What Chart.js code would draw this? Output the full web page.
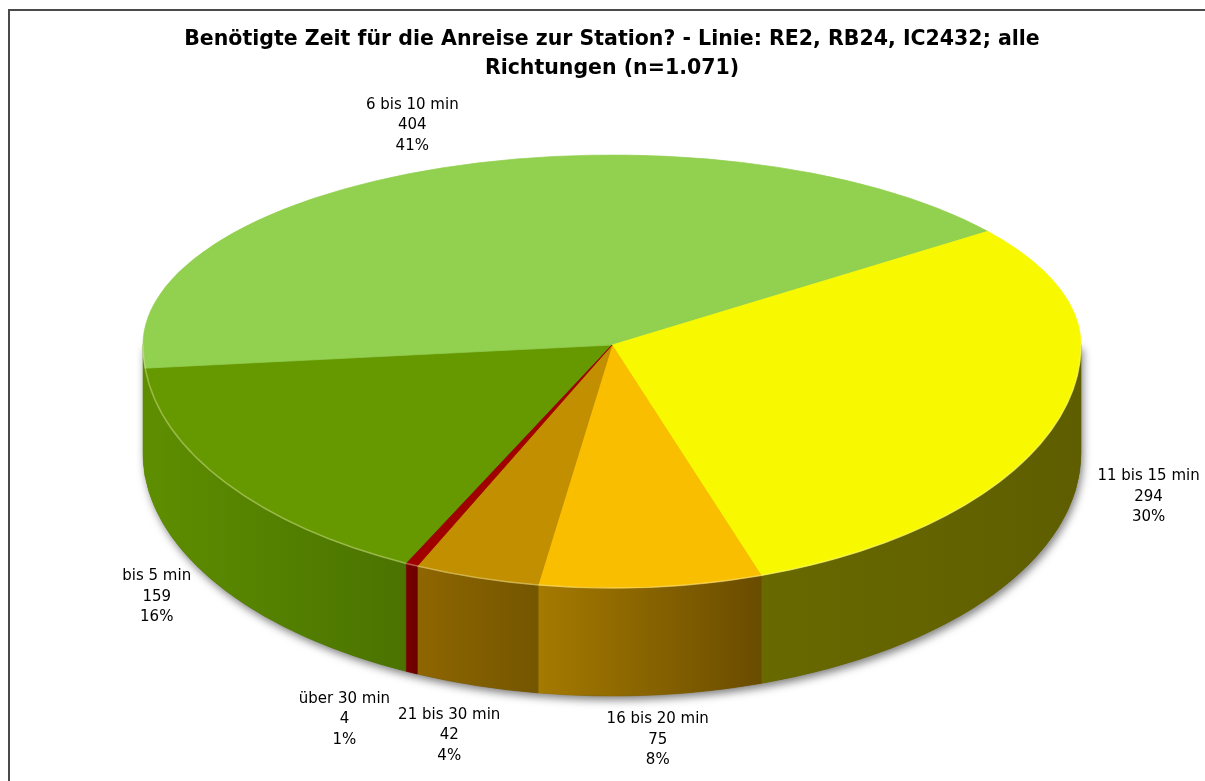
<!DOCTYPE html>
<html>
<head>
<meta charset="utf-8">
<script src="https://cdn.jsdelivr.net/npm/chart.js@4.4.1/dist/chart.umd.min.js"></script>
<style>
  html, body { margin: 0; padding: 0; background: #fff; overflow: hidden; width: 1205px; height: 781px; }
  #frame { position: absolute; left: 8px; top: 9px; width: 1230px; height: 800px;
           border-left: 2px solid #4a4a4a; border-top: 2px solid #4a4a4a; }
  #pieChart { position: absolute; left: 0; top: 0; }
</style>
</head>
<body>
<div id="frame"><canvas id="pieChart" width="1204" height="780"></canvas></div>
<script>
// DATA
const categories = ["bis 5 min", "6 bis 10 min", "11 bis 15 min", "16 bis 20 min", "21 bis 30 min", "über 30 min"];
const counts = [159, 404, 294, 75, 42, 4];
const percentLabels = ["16%", "41%", "30%", "8%", "4%", "1%"];
const titleLines = ["Benötigte Zeit für die Anreise zur Station? - Linie: RE2, RB24, IC2432; alle", "Richtungen (n=1.071)"];

// STYLE
const topColors = ["#669900", "#92d050", "#f8f800", "#fabe00", "#c18f00", "#a00000"];
const sideColors = [
  ["#5e8e00", "#4a7300"],
  ["#5e8e00", "#5e8e00"],
  ["#696900", "#5e5e00"],
  ["#a57a00", "#6a4c00"],
  ["#8f6600", "#745600"],
  ["#7a0000", "#6a0000"]
];
const RY_BACK = 190;   // half height of top face, back half
const RY_FRONT = 243;  // half height of top face, front half
const DEPTH = 108;     // side wall height
const LABEL_FONT = "15px 'DejaVu Sans'";
const LABEL_LH = 20.5;

/* ================= 3D PIE PLUGIN ================= */
const pie3d = {
  id: "pie3d",
  beforeDatasetsDraw(chart) {
    const ctx = chart.ctx;
    const meta = chart.getDatasetMeta(0);
    const arcs = meta.data;
    const cx = arcs[0].x, cy = arcs[0].y, rx = arcs[0].outerRadius;
    const TWO_PI = Math.PI * 2;

    // drop shadow under the wall
    ctx.save();
    ctx.beginPath();
    ctx.moveTo(cx + rx, cy);
    ctx.ellipse(cx, cy + DEPTH, rx, RY_FRONT, 0, 0, Math.PI);
    ctx.lineTo(cx - rx, cy);
    ctx.closePath();
    ctx.shadowColor = "rgba(0,0,0,0.5)";
    ctx.shadowBlur = 9;
    ctx.shadowOffsetX = 2;
    ctx.shadowOffsetY = 4;
    ctx.fillStyle = "#555522";
    ctx.fill();
    ctx.restore();

    // side walls (front half only)
    const fronts = [];
    arcs.forEach((arc, i) => {
      for (let k = -1; k <= 2; k++) {
        const a0 = Math.max(arc.startAngle, TWO_PI * k) - TWO_PI * k;
        const a1 = Math.min(arc.endAngle, TWO_PI * k + Math.PI) - TWO_PI * k;
        if (a1 <= a0) continue;
        fronts.push({ i, a0, a1 });
        const xl = cx + rx * Math.cos(a1), xr = cx + rx * Math.cos(a0);
        ctx.beginPath();
        ctx.ellipse(cx, cy, rx, RY_FRONT, 0, a0, a1);
        ctx.ellipse(cx, cy + DEPTH, rx, RY_FRONT, 0, a1, a0, true);
        ctx.closePath();
        const g = ctx.createLinearGradient(xl, 0, xr + 0.01, 0);
        g.addColorStop(0, sideColors[i][0]);
        g.addColorStop(1, sideColors[i][1]);
        ctx.fillStyle = g;
        ctx.strokeStyle = g;
        ctx.lineWidth = 0.6;
        ctx.fill();
        ctx.stroke();
      }
    });

    // top face: back half and front half squashed differently
    const drawHalf = (y0, y1, ry) => {
      ctx.save();
      ctx.beginPath();
      ctx.rect(0, y0, chart.width, y1 - y0);
      ctx.clip();
      ctx.translate(0, cy);
      ctx.scale(1, ry / rx);
      ctx.translate(0, -cy);
      meta.controller.draw();
      ctx.restore();
    };
    drawHalf(0, cy + 0.5, RY_BACK);
    drawHalf(cy - 0.5, chart.height, RY_FRONT);

    // light rim along the front edge
    ctx.save();
    ctx.lineWidth = 1.5;
    ctx.strokeStyle = "rgba(255,255,210,0.35)";
    fronts.forEach(f => {
      ctx.beginPath();
      ctx.ellipse(cx, cy, rx, RY_FRONT, 0, f.a0, f.a1);
      ctx.stroke();
    });
    ctx.restore();
    return false;
  },
  afterDraw(chart) {
    const ctx = chart.ctx;
    const arcs = chart.getDatasetMeta(0).data;
    const cx = arcs[0].x, cy = arcs[0].y, rx = arcs[0].outerRadius;
    ctx.save();
    ctx.font = LABEL_FONT;
    ctx.fillStyle = "#000";
    ctx.textAlign = "center";
    ctx.textBaseline = "middle";

    // place each label just outside the slice, along its middle angle
    const boxes = arcs.map((arc, i) => {
      const lines = [categories[i], String(counts[i]), percentLabels[i]];
      const w = Math.max(...lines.map(t => ctx.measureText(t).width));
      const h = lines.length * LABEL_LH;
      const mid = (arc.startAngle + arc.endAngle) / 2;
      const c = Math.cos(mid), s = Math.sin(mid);
      const ex = cx + rx * c;
      const ey = cy + (s < 0 ? RY_BACK : RY_FRONT) * s + DEPTH * Math.sqrt(Math.max(0, s));
      const ext = Math.abs(c) * w / 2 + Math.abs(s) * h / 2 + (s < 0 ? 0 : 10);
      const lx = ex + c * ext + 24 * Math.sign(c) * Math.min(1, Math.abs(c) / 0.6);
      return { lines, w, h, x: lx, y: ey + s * ext, v: counts[i] };
    });

    // push overlapping labels apart sideways (smaller value yields)
    for (let pass = 0; pass < 3; pass++) {
      boxes.forEach(a => boxes.forEach(b => {
        if (a === b || a.v >= b.v) return;
        const ox = (a.w + b.w) / 2 + 8 - Math.abs(a.x - b.x);
        const oy = (a.h + b.h) / 2 - Math.abs(a.y - b.y);
        if (ox > 0 && oy > 0) a.x += a.x < b.x ? -ox : ox;
      }));
    }

    boxes.forEach(b => b.lines.forEach((t, j) =>
      ctx.fillText(t, b.x, b.y - b.h / 2 + LABEL_LH * (j + 0.5))));
    ctx.restore();
  }
};

new Chart(document.getElementById("pieChart"), {
  type: "pie",
  data: {
    labels: categories,
    datasets: [{
      data: counts,
      backgroundColor: topColors,
      borderColor: topColors,
      borderWidth: 1
    }]
  },
  options: {
    responsive: false,
    animation: false,
    events: [],
    radius: 469,
    rotation: 206,
    layout: { padding: { top: 0, left: 0, right: 0, bottom: 192 } },
    plugins: {
      legend: { display: false },
      tooltip: { enabled: false },
      title: {
        display: true,
        text: titleLines,
        color: "#000",
        font: { family: "'DejaVu Sans'", size: 20.5, weight: "bold", lineHeight: 1.415 },
        padding: { top: 14, bottom: 8 }
      }
    }
  },
  plugins: [pie3d]
});
</script>
</body>
</html>
